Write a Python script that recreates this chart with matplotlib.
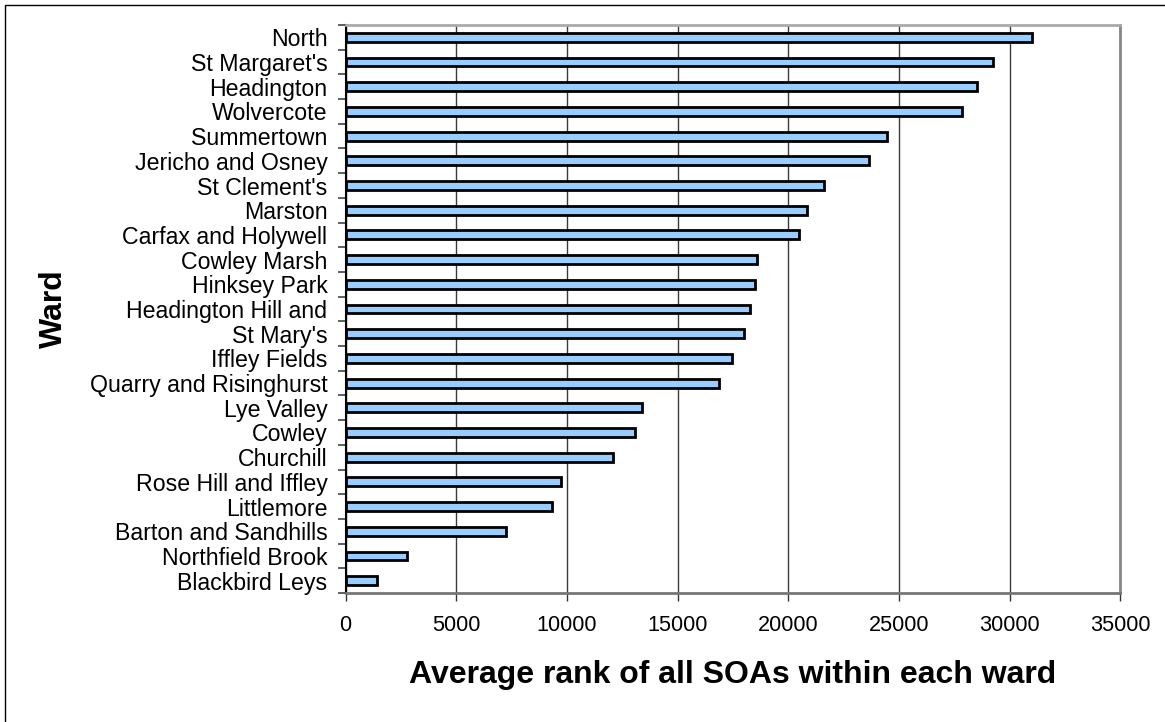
import matplotlib
matplotlib.use('Agg')
import matplotlib.pyplot as plt
from matplotlib.patches import Rectangle
import numpy as np

plt.rcParams['font.family'] = ['Liberation Sans', 'DejaVu Sans']

# wards, top of chart first
wards = ['North', "St Margaret's", 'Headington', 'Wolvercote', 'Summertown',
         'Jericho and Osney', "St Clement's", 'Marston', 'Carfax and Holywell',
         'Cowley Marsh', 'Hinksey Park', 'Headington Hill and', "St Mary's",
         'Iffley Fields', 'Quarry and Risinghurst', 'Lye Valley', 'Cowley',
         'Churchill', 'Rose Hill and Iffley', 'Littlemore', 'Barton and Sandhills',
         'Northfield Brook', 'Blackbird Leys']
avg_rank = [31000, 29250, 28540, 27850, 24480,
            23670, 21610, 20850, 20490,
            18610, 18500, 18260, 18010,
            17480, 16880, 13410, 13070,
            12070, 9740, 9330, 7270,
            2800, 1430]
xticks = [0, 5000, 10000, 15000, 20000, 25000, 30000, 35000]

W, H = 1165, 722
fig = plt.figure(figsize=(W / 100, H / 100), dpi=100)
ax = fig.add_axes([345.5 / W, 1 - 593 / H, (1120.3 - 345.5) / W, (593 - 25) / H])

n = len(wards)
ypos = np.arange(n)[::-1]  # North at top
ax.barh(ypos, avg_rank, height=0.36, color='#99CCFF', edgecolor='black',
        linewidth=2.0, zorder=3)

ax.set_xlim(0, 35000)
ax.set_ylim(-0.5, n - 0.5)
ax.set_xticks(xticks)
ax.set_xticklabels([str(v) for v in xticks], fontsize=15.6)
ax.tick_params(axis='x', length=6, width=1, color='#333333', pad=10, direction='out')

# category labels at centres, tick marks at boundaries (Excel style)
ax.set_yticks(ypos)
ax.set_yticklabels(wards, fontsize=16.7)
ax.tick_params(axis='y', which='major', length=0, pad=13)
ax.set_yticks(np.arange(-0.5, n, 1.0), minor=True)
ax.tick_params(axis='y', which='minor', length=6, width=1.2, color='#444444', direction='out')

ax.grid(axis='x', color='#3a3a3a', linewidth=1, zorder=0)
ax.set_axisbelow(True)

ax.spines['left'].set_color('black')
ax.spines['left'].set_linewidth(1.5)
ax.spines['bottom'].set_color('#777777')
ax.spines['bottom'].set_linewidth(2)
ax.spines['top'].set_color('#aaaaaa')
ax.spines['top'].set_linewidth(2)
ax.spines['right'].set_color('#888888')
ax.spines['right'].set_linewidth(2)

fig.text(733 / W, 1 - 683 / H, 'Average rank of all SOAs within each ward',
         fontsize=23, fontweight='bold', ha='center', va='baseline')
fig.text(54 / W, 1 - 309 / H, 'Ward', fontsize=23, fontweight='bold',
         rotation=90, ha='center', va='center')

# outer chart border (right and bottom edges fall outside the image)
fig.patches.append(Rectangle((5 / W, -0.1), 1.2, 1.1 - 5 / H, transform=fig.transFigure,
                             fill=False, edgecolor='black', linewidth=1))

fig.savefig('out.png', dpi=100)
